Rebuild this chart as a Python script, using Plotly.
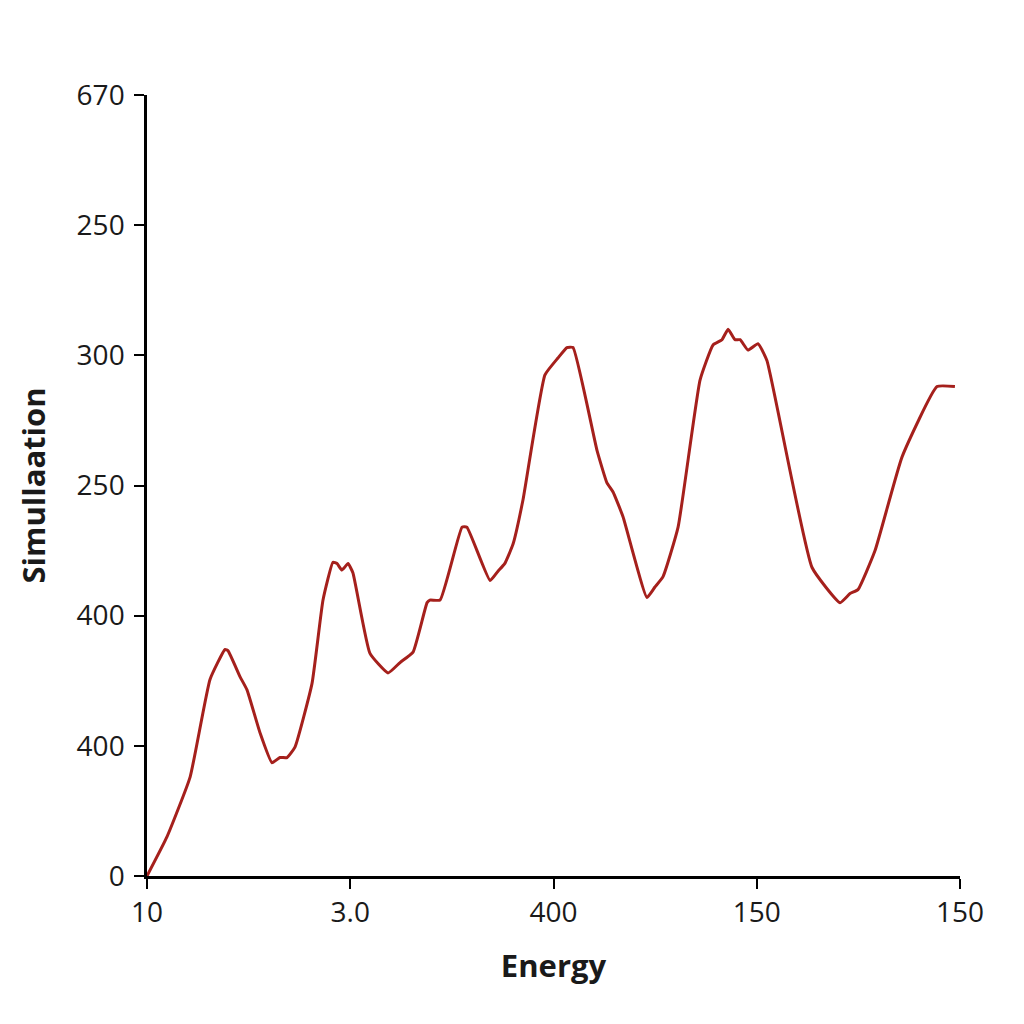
import plotly.graph_objects as go

# x positions in tick-interval units (0..4), y in tick-interval units (0..6)
energy = [0.000, 0.098, 0.212, 0.310, 0.384, 0.399, 0.458, 0.492, 0.556, 0.615,
          0.654, 0.689, 0.728, 0.812, 0.866, 0.915, 0.935, 0.959, 0.989, 1.013,
          1.097, 1.186, 1.245, 1.309, 1.378, 1.392, 1.442, 1.550, 1.574, 1.688,
          1.726, 1.760, 1.801, 1.850, 1.958, 2.022, 2.066, 2.096, 2.214, 2.263,
          2.293, 2.342, 2.460, 2.499, 2.539, 2.613, 2.721, 2.785, 2.829, 2.859,
          2.893, 2.918, 2.957, 3.006, 3.050, 3.272, 3.410, 3.459, 3.498, 3.582,
          3.715, 3.887, 3.975]
simulation = [0.00, 0.30, 0.76, 1.51, 1.74, 1.73, 1.53, 1.43, 1.10, 0.87,
              0.91, 0.91, 0.99, 1.48, 2.12, 2.41, 2.40, 2.35, 2.40, 2.33,
              1.71, 1.56, 1.64, 1.72, 2.10, 2.12, 2.12, 2.68, 2.68, 2.27,
              2.34, 2.40, 2.55, 2.89, 3.85, 3.98, 4.06, 4.06, 3.27, 3.02,
              2.95, 2.76, 2.14, 2.22, 2.30, 2.68, 3.81, 4.08, 4.12, 4.20,
              4.12, 4.12, 4.04, 4.09, 3.96, 2.37, 2.10, 2.17, 2.20, 2.50,
              3.22, 3.76, 3.76]

x_tick_vals = [0, 1, 2, 3, 4]
x_tick_text = ["10", "3.0", "400", "150", "150"]
y_tick_vals = [0, 1, 2, 3, 4, 5, 6]
y_tick_text = ["0", "400", "400", "250", "300", "250", "670"]

fig = go.Figure()
fig.add_trace(go.Scatter(
    x=energy, y=simulation, mode="lines",
    line=dict(color="#a5201c", width=3, shape="spline", smoothing=0.4),
    showlegend=False, hoverinfo="skip",
))

axis_common = dict(
    showgrid=False, zeroline=False, showline=True, linecolor="black", linewidth=2.5,
    ticks="outside", ticklen=10, tickwidth=2, tickcolor="black",
    tickfont=dict(family="Open Sans", size=28, color="#1a1a1a"),
)

fig.update_layout(
    width=1024, height=1024,
    margin=dict(l=147, r=64, t=95, b=148),
    paper_bgcolor="white", plot_bgcolor="white",
    xaxis=dict(range=[0, 4], tickvals=x_tick_vals, ticktext=x_tick_text,
               title=dict(text="<b>Energy</b>", font=dict(family="Open Sans", size=31, color="#1a1a1a"),
                          standoff=26),
               **axis_common),
    yaxis=dict(range=[0, 6], tickvals=y_tick_vals, ticktext=y_tick_text,
               ticklabelstandoff=4,
               title=dict(text="<b>Simullaation</b>", font=dict(family="Open Sans", size=31, color="#1a1a1a"),
                          standoff=22),
               **axis_common),
)

fig.write_html("out.html")
